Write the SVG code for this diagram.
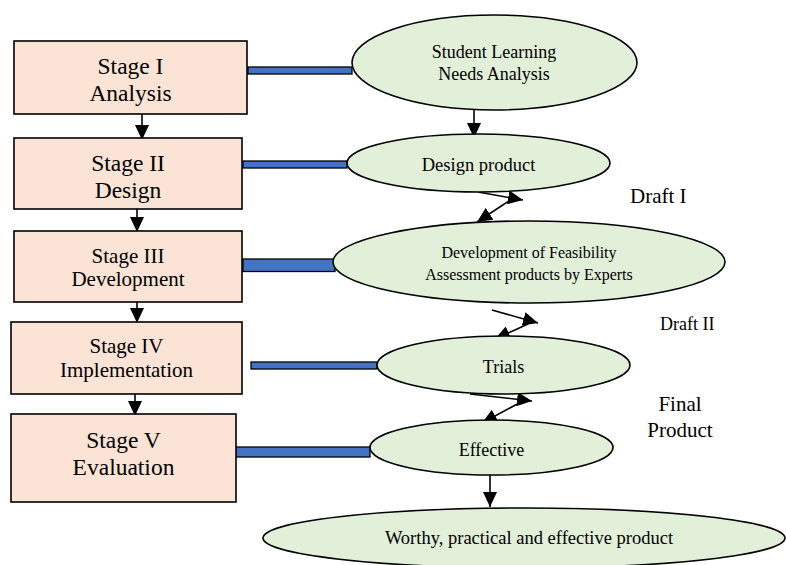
<svg xmlns="http://www.w3.org/2000/svg" width="786" height="565" viewBox="0 0 786 565" font-family="'Liberation Serif', 'Times New Roman', Times, serif">
<style>
  .box { fill: #FBE4D5; stroke: #000; stroke-width: 1.6; }
  .ell { fill: #E2EFD9; stroke: #000; stroke-width: 1.6; }
  .bar { fill: #4472C4; stroke: #000; stroke-width: 1.3; }
  .arr { stroke: #000; stroke-width: 1.6; fill: none; marker-end: url(#ah); }
  .t { font-family: 'Liberation Serif', 'Times New Roman', Times, serif; fill: #000; text-anchor: middle; }
  .big { font-size: 23.5px; }
  .mid { font-size: 21px; }
  .sm { font-size: 18px; }
  .xs { font-size: 16px; }
  .lbl { text-anchor: start; }
</style>
<defs>
  <marker id="ah" markerUnits="userSpaceOnUse" markerWidth="16" markerHeight="14" refX="15" refY="7" orient="auto">
    <path d="M0,0 L15,7 L0,14 z" fill="#000"/>
  </marker>
</defs>
<rect width="786" height="565" fill="#fff"/>

<g id="connectors">
  <rect class="bar" x="248" y="67" width="104" height="7"/>
  <rect class="bar" x="243" y="161" width="104" height="7"/>
  <rect class="bar" x="243" y="259" width="92" height="12.5"/>
  <rect class="bar" x="251" y="362" width="126" height="7"/>
  <rect class="bar" x="233" y="447" width="137" height="10"/>
  <line class="arr" x1="142" y1="114" x2="142" y2="140"/>
  <line class="arr" x1="137" y1="209" x2="137" y2="232"/>
  <line class="arr" x1="137" y1="302" x2="137" y2="323"/>
  <line class="arr" x1="135" y1="394" x2="135" y2="416"/>
  <line class="arr" x1="474" y1="110" x2="474" y2="138"/>
  <line class="arr" x1="490" y1="475" x2="490" y2="507"/>
  <line class="arr" x1="478" y1="192" x2="523" y2="200"/>
  <line class="arr" x1="515" y1="197" x2="477" y2="222"/>
  <line class="arr" x1="492" y1="310" x2="538" y2="323"/>
  <line class="arr" x1="528" y1="324" x2="495" y2="339"/>
  <line class="arr" x1="470" y1="394" x2="532" y2="401"/>
  <line class="arr" x1="521" y1="402" x2="482" y2="423"/>
</g>

<g id="stage1">
  <rect class="box" x="14" y="41" width="233" height="73"/>
  <text class="t big" x="130.5" y="74">Stage I</text>
  <text class="t big" x="130.5" y="100.5">Analysis</text>
</g>
<g id="stage2">
  <rect class="box" x="14" y="138" width="228" height="71"/>
  <text class="t big" x="128" y="170.5">Stage II</text>
  <text class="t big" x="128" y="198">Design</text>
</g>
<g id="stage3">
  <rect class="box" x="14" y="231" width="228" height="71"/>
  <text class="t mid" x="128" y="262.5">Stage III</text>
  <text class="t mid" x="128" y="286">Development</text>
</g>
<g id="stage4">
  <rect class="box" x="11" y="322" width="231" height="72"/>
  <text class="t mid" x="126.5" y="353">Stage IV</text>
  <text class="t mid" x="126.5" y="376.5">Implementation</text>
</g>
<g id="stage5">
  <rect class="box" x="11" y="414" width="225" height="88"/>
  <text class="t big" x="123.5" y="448">Stage V</text>
  <text class="t big" x="123.5" y="475">Evaluation</text>
</g>

<g id="needs">
  <ellipse class="ell" cx="494.5" cy="62.5" rx="142.5" ry="47.5"/>
  <text class="t sm" x="494" y="57.5">Student Learning</text>
  <text class="t sm" x="494" y="80">Needs Analysis</text>
</g>
<g id="design">
  <ellipse class="ell" cx="478.5" cy="163" rx="131.5" ry="29"/>
  <text class="t" x="478.5" y="171" style="font-size:18.5px">Design product</text>
</g>
<g id="develop">
  <ellipse class="ell" cx="529" cy="262" rx="196" ry="41"/>
  <text class="t xs" x="529" y="258">Development of Feasibility</text>
  <text class="t xs" x="529" y="280">Assessment products by Experts</text>
</g>
<g id="trials">
  <ellipse class="ell" cx="503.5" cy="365" rx="126.5" ry="29"/>
  <text class="t sm" x="503.5" y="373">Trials</text>
</g>
<g id="effective">
  <ellipse class="ell" cx="491.5" cy="447.5" rx="121.5" ry="27.5"/>
  <text class="t sm" x="491.5" y="456">Effective</text>
</g>
<g id="worthy">
  <ellipse class="ell" cx="524" cy="538" rx="261" ry="30"/>
  <text class="t" x="529" y="544" style="font-size:18.5px">Worthy, practical and effective product</text>
</g>

<g id="labels">
  <text class="t mid lbl" x="630" y="203">Draft I</text>
  <text class="t sm lbl" x="660" y="330">Draft II</text>
  <text class="t mid" x="680" y="411">Final</text>
  <text class="t mid" x="680" y="437">Product</text>
</g>
</svg>
